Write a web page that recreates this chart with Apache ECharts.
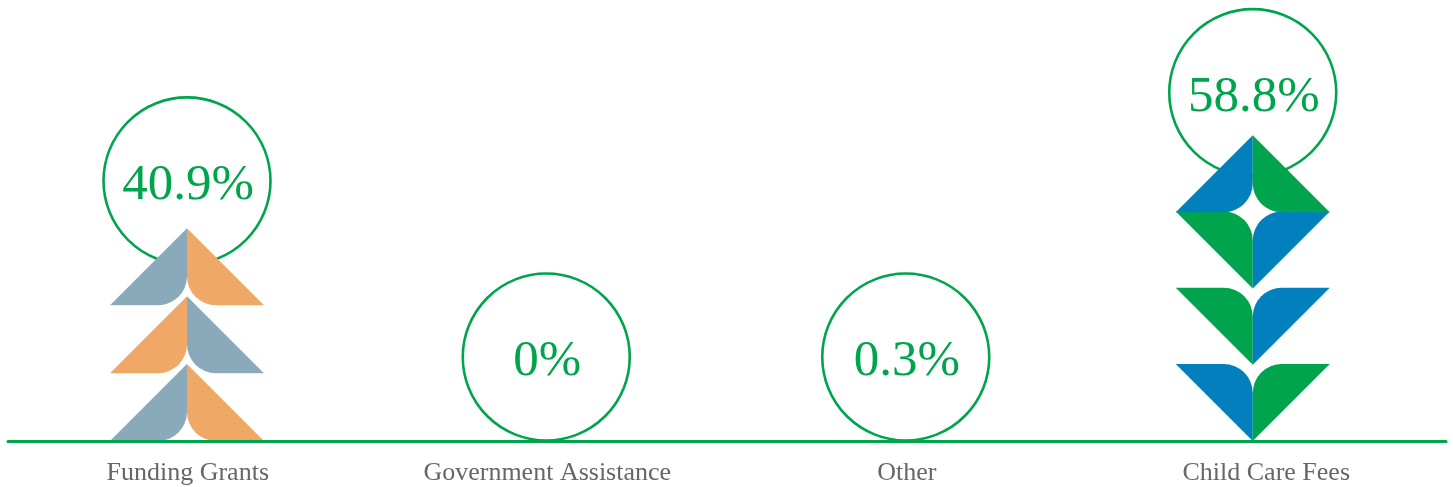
<!DOCTYPE html>
<html><head><meta charset="utf-8">
<style>html,body{margin:0;padding:0;background:#fff}#c{width:1453px;height:487px}</style>
<script src="https://cdn.jsdelivr.net/npm/echarts@6/dist/echarts.min.js"></script>
</head><body><div id="c"></div>
<script>
const categories = ['Funding Grants', 'Government Assistance', 'Other', 'Child Care Fees'];
const values = [40.9, 0, 0.3, 58.8];
const valueLabels = ['40.9%', '0%', '0.3%', '58.8%'];
// tiles listed bottom to top: left colour key, right colour key, pointing direction
const tileLeft = [['slate', 'orange', 'slate'], [], [], ['blue', 'green', 'green', 'blue']];
const tileRight = [['orange', 'slate', 'orange'], [], [], ['green', 'blue', 'blue', 'green']];
const tileDirection = [['up', 'up', 'up'], [], [], ['down', 'down', 'down', 'up']];
const tilePalette = { slate: '#8aaabc', orange: '#efa865', blue: '#0180bd', green: '#00a44c' };

const GREEN = '#00a44c';
const TILE_H = 77, TILE_R = 29, BUBBLE_R = 83.5, BUBBLE_TRACK = 0.948, BUBBLE_LIFT = 58.5;
const shift = [-0.75, -1, -1, -13.5];

function halfPath(cx, top, side, dir) {
  const base = top + TILE_H, s = side, r = TILE_R, w = TILE_H;
  if (dir === 'up') {
    return `M${cx} ${top}L${cx + s * w} ${base}L${cx + s * r} ${base}` +
      `A${r} ${r} 0 0 ${s > 0 ? 1 : 0} ${cx} ${base - r}Z`;
  }
  return `M${cx} ${base}L${cx + s * w} ${top}L${cx + s * r} ${top}` +
    `A${r} ${r} 0 0 ${s > 0 ? 0 : 1} ${cx} ${top + r}Z`;
}

function renderBubble(params, api) {
  const i = api.value(0);
  const [x, track] = api.coord([i, api.value(1) * BUBBLE_TRACK]);
  const [, base] = api.coord([i, 0]);
  const cx = x + shift[i];
  const cy = Math.min(track - BUBBLE_LIFT, base - BUBBLE_R - 0.5);
  return { type: 'group', children: [
    { type: 'circle', shape: { cx, cy, r: BUBBLE_R }, style: { fill: 'none', stroke: GREEN, lineWidth: 2.6 } },
    { type: 'text', x: cx + 1, y: cy + 5, style: { text: valueLabels[i], fill: GREEN, align: 'center', verticalAlign: 'middle',
      font: '51px "Liberation Serif", serif' } }
  ] };
}

function renderTiles(params, api) {
  const i = api.value(0);
  const [x, top] = api.coord([i, api.value(1)]);
  const [, base] = api.coord([i, 0]);
  const cx = x + shift[i];
  const n = tileLeft[i].length;
  const children = [];
  const step = n > 1 ? (base - top - TILE_H) / (n - 1) : 0;
  for (let k = 0; k < n; k++) {
    const t = base - TILE_H - k * step;
    children.push({ type: 'path', shape: { pathData: halfPath(cx, t, -1, tileDirection[i][k]) }, style: { fill: tilePalette[tileLeft[i][k]] } });
    children.push({ type: 'path', shape: { pathData: halfPath(cx, t, 1, tileDirection[i][k]) }, style: { fill: tilePalette[tileRight[i][k]] } });
  }
  return { type: 'group', children };
}

const points = values.map((v, i) => [i, v]);
const chart = echarts.init(document.getElementById('c'), null, { renderer: 'canvas' });
chart.setOption({
  animation: false,
  backgroundColor: '#fff',
  grid: { left: 8, right: 7, top: 0, bottom: 46 },
  xAxis: {
    type: 'category', data: categories, z: 5,
    axisLine: { show: true, lineStyle: { color: GREEN, width: 3 } },
    axisTick: { show: false },
    axisLabel: { margin: 19, color: '#666666', fontSize: 26, fontFamily: '"Liberation Serif", serif' }
  },
  yAxis: { type: 'value', min: 0, max: 84.8, show: false, splitLine: { show: false } },
  series: [
    { type: 'custom', data: points, renderItem: renderBubble, z: 2, clip: false },
    { type: 'custom', data: points, renderItem: renderTiles, z: 3, clip: false }
  ]
});
</script></body></html>
